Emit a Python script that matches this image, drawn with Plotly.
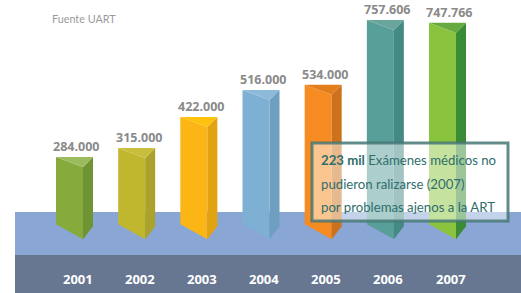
import plotly.graph_objects as go

years = ["2001", "2002", "2003", "2004", "2005", "2006", "2007"]
values = [284000, 315000, 422000, 516000, 534000, 757606, 747766]
front_colors = ["#87aa3c", "#c0b72f", "#fbb515", "#7eb0d3", "#f68b21", "#589f9a", "#8ac43f"]
side_colors = ["#6f9433", "#aaa22b", "#e1a311", "#6e9fc0", "#cc721d", "#458985", "#3a8b35"]
top_colors = ["#9cbb5c", "#c9bd3c", "#fec20e", "#8dbadb", "#e47e1d", "#6aa59b", "#65ab40"]
source_text = "Fuente UART"
note_lines = ["<b>223 mil</b> Exámenes médicos no", "pudieron ralizarse (2007)", "por problemas ajenos a la ART"]

W, H = 521, 293
px_per_unit = 0.0002893
zero_px = 239.2
y_top = zero_px / px_per_unit
y_bot = (zero_px - H) / px_per_unit
spacing = 62.17
center0 = 74.5
x_lo = -center0 / spacing
x_hi = (W - center0) / spacing

fw = 27 / spacing   # front width
sw = 10 / spacing   # side width
top_drop = 10 / px_per_unit
front_bot = 15 / px_per_unit
side_bot = 13 / px_per_unit

fig = go.Figure()

for i, v in enumerate(values):
    xl = i - (fw + sw) / 2
    xr = xl + fw
    xs = xr + sw
    fig.add_trace(go.Scatter(x=[xl, xr, xr, xl, xl], y=[v, v - top_drop, 0, front_bot, v],
                             fill="toself", fillcolor=front_colors[i], mode="lines",
                             line=dict(width=0, color=front_colors[i]), hoverinfo="skip"))
    fig.add_trace(go.Scatter(x=[xr, xs, xs, xr, xr], y=[v - top_drop, v, side_bot, 0, v - top_drop],
                             fill="toself", fillcolor=side_colors[i], mode="lines",
                             line=dict(width=0, color=side_colors[i]), hoverinfo="skip"))
    fig.add_trace(go.Scatter(x=[xl, xs, xr, xl], y=[v, v, v - top_drop, v],
                             fill="toself", fillcolor=top_colors[i], mode="lines",
                             line=dict(width=0, color=top_colors[i]), hoverinfo="skip"))
    fig.add_annotation(x=i + 0.03, y=v, xref="x", yref="y", text="<b>" + f"{v:,}".replace(",", ".") + "</b>",
                       showarrow=False, yanchor="bottom", yshift=0,
                       font=dict(family="Open Sans", size=12.5, color="#8a8a8a"))
    fig.add_annotation(x=i + 0.05, y=1 - 279 / H, xref="x", yref="paper", text="<b>" + years[i] + "</b>",
                       showarrow=False, yanchor="middle",
                       font=dict(family="Open Sans", size=13, color="#ffffff"))

# background bands
fig.add_shape(type="rect", xref="paper", yref="paper", x0=15 / W, x1=1, y0=1 - 255 / H, y1=1 - 212 / H,
              fillcolor="#8aa6d4", line=dict(width=0), layer="below")
fig.add_shape(type="rect", xref="paper", yref="paper", x0=15 / W, x1=1, y0=0, y1=1 - 255 / H,
              fillcolor="#677792", line=dict(width=0), layer="below")

# note box
fig.add_shape(type="rect", xref="paper", yref="paper", x0=312 / W, x1=508 / W, y0=1 - 221 / H, y1=1 - 143 / H,
              fillcolor="rgba(255,255,255,0.5)", line=dict(width=3, color="rgba(70,120,118,0.85)"), layer="above")
for k, line in enumerate(note_lines):
    fig.add_annotation(x=319 / W, y=1 - (160 + 23.5 * k) / H, xref="paper", yref="paper", text=line,
                       showarrow=False, xanchor="left", yanchor="middle",
                       font=dict(family="Lato", size=13.2, color="#2f6e6c"))

fig.add_annotation(x=50 / W, y=1 - 19 / H, xref="paper", yref="paper", text=source_text,
                   showarrow=False, xanchor="left", yanchor="middle",
                   font=dict(family="Lato", size=10.8, color="#9a9a9a"))

fig.update_layout(width=W, height=H, margin=dict(l=0, r=0, t=0, b=0),
                  paper_bgcolor="white", plot_bgcolor="white", showlegend=False,
                  xaxis=dict(range=[x_lo, x_hi], visible=False, fixedrange=True),
                  yaxis=dict(range=[y_bot, y_top], visible=False, fixedrange=True))

fig.write_html("out.html", config={"displayModeBar": False},
               post_script="document.body.style.margin='0';document.body.style.overflow='hidden';")
